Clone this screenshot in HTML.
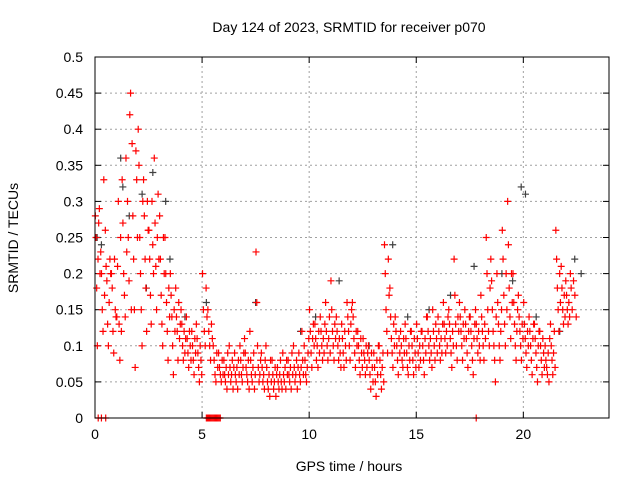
<!DOCTYPE html>
<html><head><meta charset="utf-8"><style>
body{margin:0;background:#fff;font-family:"Liberation Sans",sans-serif}
svg text{font-family:"Liberation Sans",sans-serif;font-size:14px;fill:#000}
</style></head><body>
<svg id="chart" width="640" height="480" xmlns="http://www.w3.org/2000/svg">
<rect width="640" height="480" fill="#fff"/>
<text x="349" y="32" text-anchor="middle">Day 124 of 2023, SRMTID for receiver p070</text>
<text x="349" y="471" text-anchor="middle">GPS time / hours</text>
<text transform="translate(18,238) rotate(-90)" text-anchor="middle">SRMTID / TECUs</text>
<g id="grid"></g>
<g id="axes"></g>
<g id="gray"></g>
<g id="red"></g>
<rect x="95" y="57" width="514" height="361" fill="none" stroke="#000" stroke-width="1"/>
</svg>
<script>
const xTicks=[0,5,10,15,20];
const yTicks=[0,0.05,0.1,0.15,0.2,0.25,0.3,0.35,0.4,0.45,0.5];
const yTickLabels=["0","0.05","0.1","0.15","0.2","0.25","0.3","0.35","0.4","0.45","0.5"];
const binHours=0.25;
// red values per 0.25h bin, starting at hour 0
const redBins=[
[0.28,0.25,0.18,0.1,0.22,0.27,0.29,0.2],[0.23,0.2,0.15,0.12,0.33,0.17,0.26],[0.21,0.19,0.13,0.1,0.16,0.22,0.2],[0.2,0.18,0.12,0.09,0.22,0.15,0.14],
[0.14,0.21,0.3,0.13,0.08,0.25,0.12],[0.33,0.27,0.2,0.17,0.14,0.36,0.23],[0.3,0.25,0.19,0.42,0.45,0.15,0.38],[0.28,0.22,0.15,0.07,0.37,0.33,0.25],
[0.4,0.35,0.25,0.2,0.15,0.1,0.3],[0.33,0.28,0.22,0.18,0.12,0.3,0.26],[0.26,0.22,0.17,0.13,0.3,0.24,0.2],[0.36,0.27,0.21,0.15,0.25,0.31,0.22],
[0.28,0.22,0.17,0.13,0.1,0.25,0.2],[0.25,0.2,0.16,0.12,0.08,0.18,0.14],[0.2,0.17,0.14,0.1,0.06,0.15,0.12],[0.18,0.14,0.12,0.08,0.16,0.11,0.13],
[0.15,0.13,0.1,0.08,0.12,0.09,0.11],[0.14,0.11,0.09,0.07,0.12,0.1,0.08],[0.12,0.1,0.08,0.06,0.11,0.09,0.13],[0.11,0.09,0.07,0.05,0.1,0.08,0.06],
[0.2,0.15,0.12,0.1,0.18,0.14],[0.15,0.12,0.1,0.08,0.13,0.11],[0.1,0.08,0.06,0.05,0.09,0.07],[0.09,0.07,0.06,0.05,0.08,0.06],
[0.08,0.06,0.05,0.07,0.04,0.09,0.06],[0.1,0.07,0.05,0.06,0.08,0.04,0.07],[0.09,0.06,0.05,0.07,0.04,0.08,0.06],[0.1,0.08,0.06,0.05,0.07,0.09,0.11],
[0.09,0.07,0.06,0.05,0.08,0.04,0.12],[0.08,0.06,0.05,0.07,0.09,0.04,0.06],[0.23,0.16,0.1,0.07,0.05,0.06,0.08],[0.09,0.07,0.05,0.06,0.04,0.08,0.1],
[0.07,0.05,0.04,0.06,0.03,0.08,0.05],[0.08,0.06,0.04,0.05,0.07,0.03,0.06],[0.07,0.05,0.04,0.06,0.08,0.05,0.04],[0.09,0.06,0.05,0.07,0.04,0.08,0.06],
[0.08,0.06,0.05,0.07,0.04,0.09,0.06],[0.1,0.07,0.05,0.06,0.08,0.04,0.07],[0.09,0.06,0.05,0.07,0.12,0.08,0.06],[0.1,0.08,0.06,0.05,0.07,0.09,0.11],
[0.15,0.12,0.09,0.07,0.11,0.13,0.1],[0.13,0.11,0.08,0.1,0.07,0.12,0.09],[0.14,0.12,0.1,0.08,0.11,0.09,0.13],[0.16,0.12,0.1,0.08,0.11,0.14,0.09],
[0.19,0.15,0.12,0.1,0.08,0.13,0.11],[0.14,0.12,0.1,0.08,0.11,0.09,0.07],[0.13,0.11,0.09,0.07,0.12,0.1,0.08],[0.16,0.14,0.12,0.1,0.08,0.13,0.15],
[0.16,0.14,0.11,0.09,0.07,0.12,0.1],[0.12,0.1,0.08,0.06,0.11,0.09,0.07],[0.11,0.09,0.08,0.06,0.1,0.07,0.09],[0.1,0.08,0.06,0.04,0.09,0.07,0.05],
[0.09,0.07,0.05,0.03,0.08,0.06,0.1],[0.1,0.08,0.06,0.04,0.07,0.09,0.05],[0.24,0.2,0.15,0.12,0.09,0.22,0.17],[0.18,0.14,0.11,0.09,0.07,0.13,0.1],
[0.14,0.12,0.1,0.08,0.06,0.11,0.09],[0.12,0.1,0.08,0.07,0.11,0.09,0.13],[0.11,0.09,0.07,0.06,0.1,0.08,0.12],[0.12,0.1,0.08,0.06,0.11,0.09,0.07],
[0.13,0.11,0.09,0.07,0.1,0.08,0.12],[0.12,0.1,0.08,0.06,0.11,0.09,0.14],[0.14,0.12,0.1,0.08,0.11,0.09,0.07],[0.15,0.12,0.1,0.08,0.13,0.11,0.09],
[0.14,0.12,0.1,0.08,0.11,0.09,0.13],[0.16,0.13,0.11,0.09,0.12,0.1,0.14],[0.15,0.13,0.11,0.09,0.07,0.12,0.1],[0.22,0.17,0.13,0.1,0.08,0.14,0.12],
[0.16,0.14,0.12,0.1,0.08,0.13,0.11],[0.15,0.13,0.11,0.09,0.07,0.12,0.14],[0.14,0.12,0.1,0.08,0.06,0.11,0.13],[0.15,0.13,0.11,0.09,0.12,0.1,0.08],
[0.17,0.14,0.12,0.1,0.08,0.13,0.11],[0.25,0.2,0.15,0.12,0.1,0.18,0.22],[0.19,0.15,0.12,0.1,0.08,0.05,0.14],[0.2,0.16,0.13,0.1,0.08,0.12,0.15],
[0.26,0.22,0.17,0.13,0.1,0.2,0.15],[0.3,0.24,0.18,0.14,0.11,0.2,0.16],[0.2,0.16,0.13,0.1,0.08,0.12,0.15],[0.17,0.14,0.12,0.1,0.08,0.13,0.11],
[0.16,0.13,0.11,0.09,0.07,0.12,0.1],[0.14,0.12,0.1,0.08,0.06,0.11,0.13],[0.13,0.11,0.09,0.07,0.05,0.1,0.12],[0.12,0.1,0.08,0.06,0.11,0.09,0.07],
[0.1,0.08,0.07,0.06,0.09,0.05,0.11],[0.13,0.1,0.08,0.06,0.09,0.12,0.07],[0.26,0.22,0.18,0.15,0.12,0.2,0.16],[0.21,0.18,0.15,0.13,0.17,0.14,0.19],
[0.17,0.15,0.13,0.16,0.14,0.2,0.18],[0.15,0.19,0.17,0.14]
];
const redZeros=[0.15,0.3,0.5,5.2,5.25,5.3,5.35,5.4,5.45,5.5,5.55,5.6,5.65,5.7,5.75,5.8,5.85,17.8];
const grayPts=[[0.1,0.25],[0.3,0.24],[1.2,0.36],[1.3,0.32],[1.6,0.28],[2.2,0.31],[2.4,0.18],[2.7,0.34],[3.3,0.3],[3.5,0.22],[4.2,0.14],[5.2,0.16],[7.5,0.16],[9.6,0.12],[10.3,0.14],[11.4,0.19],[12.8,0.1],[13.9,0.24],[14.6,0.14],[15.6,0.15],[16.6,0.17],[17.7,0.21],[19.0,0.2],[19.5,0.19],[19.9,0.32],[20.1,0.31],[20.6,0.14],[21.7,0.12],[22.4,0.22],[22.7,0.2]];
const X0=95,X1=609,Y0=418,Y1=57,XMAX=24,YMAX=0.5;
const sx=h=>X0+h/XMAX*(X1-X0), sy=v=>Y0-v/YMAX*(Y0-Y1);
const NS="http://www.w3.org/2000/svg";
function mk(tag,attrs,parent){const e=document.createElementNS(NS,tag);for(const k in attrs)e.setAttribute(k,attrs[k]);parent.appendChild(e);return e;}
const grid=document.getElementById('grid'),axes=document.getElementById('axes');
yTicks.forEach((t,i)=>{const y=sy(t);
 if(i>0&&i<yTicks.length-1){const l=mk('line',{x1:X0,x2:X1,y1:y,y2:y,stroke:'#a0a0a0','stroke-dasharray':'2,3'},grid);}
 const tk=mk('line',{x1:X0,x2:X0+6,y1:y,y2:y,stroke:'#000'},axes);
 const tr=mk('line',{x1:X1-6,x2:X1,y1:y,y2:y,stroke:'#000'},axes);
 const tx=mk('text',{x:X0-12,y:y+5,'text-anchor':'end'},axes);tx.textContent=yTickLabels[i];});
xTicks.forEach(t=>{const x=sx(t);
 if(t>0){const l=mk('line',{x1:x,x2:x,y1:Y0,y2:Y1,stroke:'#a0a0a0','stroke-dasharray':'2,3'},grid);}
 const tk=mk('line',{x1:x,x2:x,y1:Y0,y2:Y0-6,stroke:'#000'},axes);
 const tt=mk('line',{x1:x,x2:x,y1:Y1,y2:Y1+6,stroke:'#000'},axes);
 const tx=mk('text',{x:x,y:Y0+21,'text-anchor':'middle'},axes);tx.textContent=String(t);});
function plus(g,h,v,color){const x=sx(h),y=sy(v);
 const p=mk('path',{d:`M${x-3.5},${y}H${x+3.5}M${x},${y-3.5}V${y+3.5}`,stroke:color,'stroke-width':1.2,fill:'none'},g);
 
 }
const gG=document.getElementById('gray'),gR=document.getElementById('red');
grayPts.forEach(p=>plus(gG,p[0],p[1],'#404040'));
redBins.forEach((bin,b)=>bin.forEach((v,j)=>plus(gR,b*binHours+(j+0.5)*binHours/bin.length,v,'#ff0000')));
redZeros.forEach(h=>plus(gR,h,0,'#ff0000'));
</script>
</body></html>
